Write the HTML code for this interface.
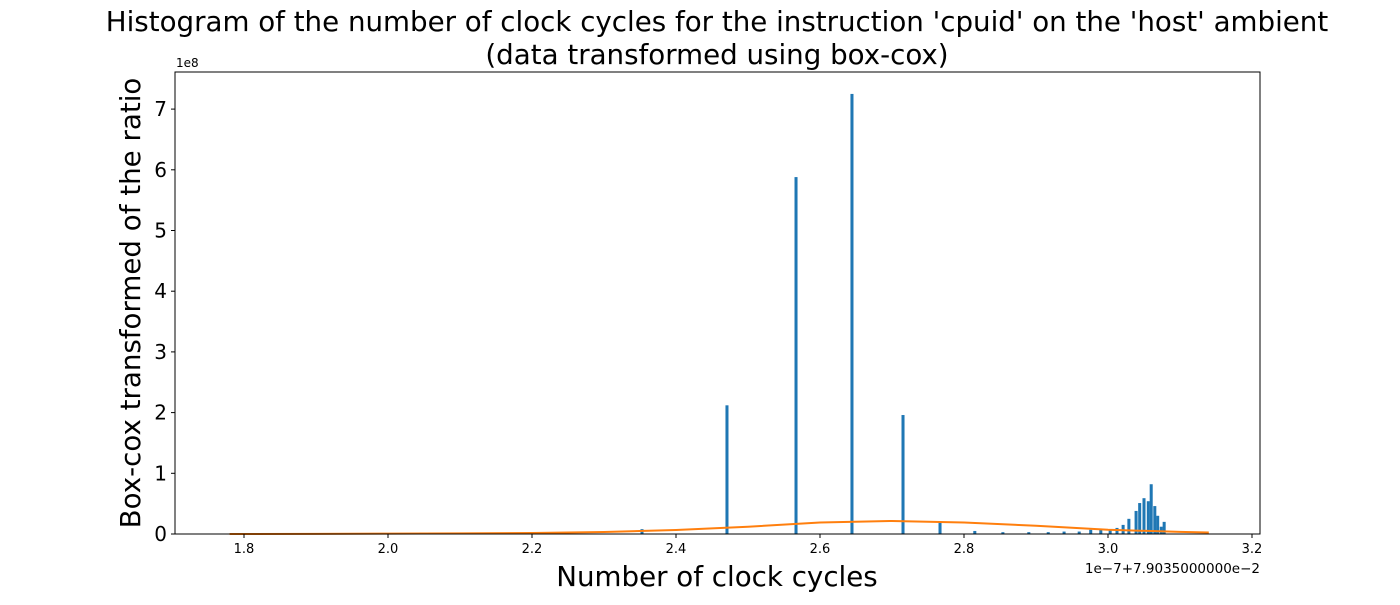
<!DOCTYPE html>
<html><head><meta charset="utf-8"><style>
body{margin:0;background:#fff;font-family:"Liberation Sans","DejaVu Sans",sans-serif;}
</style></head><body>
<svg width="1400" height="600" xmlns="http://www.w3.org/2000/svg" style="font-family:'DejaVu Sans','Liberation Sans',sans-serif">
<text x="717" y="31" font-size="27.7" text-anchor="middle">Histogram of the number of clock cycles for the instruction 'cpuid' on the 'host' ambient</text>
<text x="717" y="64" font-size="27.7" text-anchor="middle">(data transformed using box-cox)</text>
<g id="plot"></g>
<text x="176" y="67" font-size="12">1e8</text>
<text x="1260" y="573" font-size="13.5" text-anchor="end">1e−7+7.9035000000e−2</text>
<text x="717" y="586" font-size="27.7" text-anchor="middle">Number of clock cycles</text>
<text transform="translate(140,303) rotate(-90)" font-size="27.7" text-anchor="middle">Box-cox transformed of the ratio</text>
</svg>
<script>
const barX=[2.3528,2.4708,2.5667,2.6444,2.7153,2.7667,2.815,2.854,2.890,2.917,2.939,2.960,2.976,2.990,3.003,3.0125,3.021,3.029,3.039,3.044,3.050,3.056,3.060,3.065,3.069,3.074,3.078];
const barH=[0.08,2.12,5.88,7.25,1.96,0.21,0.05,0.03,0.03,0.03,0.04,0.04,0.07,0.07,0.06,0.10,0.15,0.25,0.38,0.51,0.59,0.54,0.82,0.46,0.30,0.12,0.20];
const curveX=[1.78,1.9,2.0,2.1,2.2,2.3,2.4,2.5,2.6,2.7,2.8,2.9,3.0,3.1,3.14];
const curveY=[0.0,0.003,0.006,0.01,0.016,0.033,0.065,0.12,0.19,0.215,0.19,0.135,0.07,0.035,0.025];
const xTicks=[1.8,2.0,2.2,2.4,2.6,2.8,3.0,3.2];
const yTicks=[0,1,2,3,4,5,6,7];
const NS="http://www.w3.org/2000/svg";
const L=175,R=1260,T=72,B=534;
const xs=v=>244+(v-1.8)*720;
const ys=v=>534-v*60.7;
const g=document.getElementById('plot');
function mk(t,a){const e=document.createElementNS(NS,t);for(const k in a)e.setAttribute(k,a[k]);g.appendChild(e);return e;}
const bw=0.0042*720;
barX.forEach((x,i)=>{
 const r=mk('rect',{x:xs(x)-bw/2,y:ys(barH[i]),width:bw,height:B-ys(barH[i]),fill:'#1f77b4'});
 
 
});
const p=mk('polyline',{points:curveX.map((x,i)=>xs(x)+','+ys(curveY[i])).join(' '),fill:'none',stroke:'#ff7f0e','stroke-width':2});


const f=mk('rect',{x:L,y:T,width:R-L,height:B-T,fill:'none',stroke:'#000','stroke-width':1});


xTicks.forEach(v=>{
 mk('line',{x1:xs(v),x2:xs(v),y1:B,y2:B+4,stroke:'#000'});
 const t=mk('text',{x:xs(v),y:B+19,'font-size':13,'text-anchor':'middle'});t.textContent=v.toFixed(1);
 
 
});
yTicks.forEach(v=>{
 mk('line',{x1:L-4,x2:L,y1:ys(v),y2:ys(v),stroke:'#000'});
 const t=mk('text',{x:L-8,y:ys(v)+7,'font-size':20,'text-anchor':'end'});t.textContent=v;
 
 
});
</script>
</body></html>
